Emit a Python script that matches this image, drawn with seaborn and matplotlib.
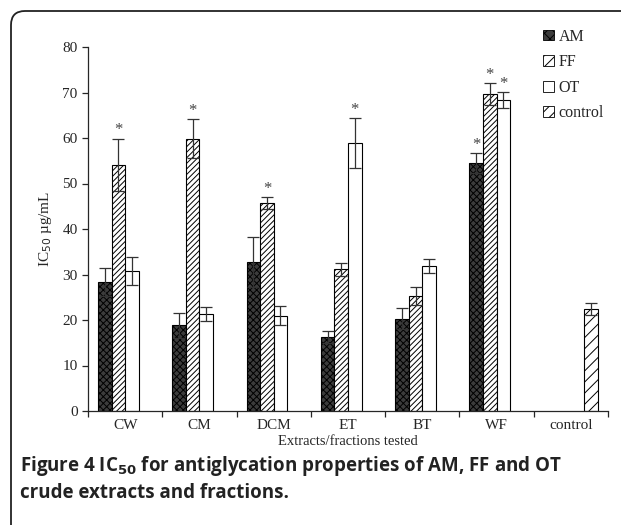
import numpy as np
import pandas as pd
import seaborn as sns
import matplotlib.pyplot as plt
from matplotlib.patches import FancyBboxPatch

# values (IC50 ug/mL, mean and error)
categories = ['CW', 'CM', 'DCM', 'ET', 'BT', 'WF', 'control']
series = ['AM', 'FF', 'OT', 'control']
am_mean = [28.3, 18.8, 32.7, 16.3, 20.3, 54.5]
am_err = [3.1, 2.8, 5.5, 1.3, 2.3, 2.1]
ff_mean = [54.1, 59.8, 45.7, 31.1, 25.3, 69.6]
ff_err = [5.7, 4.3, 1.3, 1.5, 1.9, 2.4]
ot_mean = [30.8, 21.3, 20.9, 58.8, 31.8, 68.4]
ot_err = [3.1, 1.5, 2.1, 5.5, 1.5, 1.7]
control_mean = [22.4]
control_err = [1.4]
# bars marked with * (category, series)
starred = [('CW', 'FF'), ('CM', 'FF'), ('DCM', 'FF'), ('ET', 'OT'),
           ('WF', 'AM'), ('WF', 'FF'), ('WF', 'OT')]

rows = []
for s, m, e in [('AM', am_mean, am_err), ('FF', ff_mean, ff_err), ('OT', ot_mean, ot_err)]:
    for c, v, ee in zip(categories[:6], m, e):
        rows.append((c, s, v, ee))
rows.append(('control', 'control', control_mean[0], control_err[0]))
df = pd.DataFrame(rows, columns=['group', 'series', 'ic50', 'err'])

sns.set_style('ticks')
plt.rcParams['font.family'] = ['Liberation Serif', 'DejaVu Serif']
plt.rcParams['hatch.linewidth'] = 0.7

fig = plt.figure(figsize=(6.21, 5.25), dpi=100)
ax = fig.add_axes([88 / 621, 1 - 411 / 525, 520 / 621, 364 / 525])

sns.barplot(data=df, x='group', y='ic50', hue='series', order=categories,
            hue_order=series, width=0.73, errorbar=None, ax=ax,
            edgecolor='black', linewidth=0.8)

styles = {
    'AM': dict(face='#3c3c3c', hatch='xxxxx', hc='#c8c8c8'),
    'FF': dict(face='white', hatch='//////', hc='#333333'),
    'OT': dict(face='white', hatch=None, hc=None),
    'control': dict(face='white', hatch='///', hc='#666666'),
}

for s, cont in zip(series, ax.containers):
    st = styles[s]
    for bar in cont:
        if np.isnan(bar.get_height()):
            continue
        bar.set_facecolor(st['face'])
        bar.set_edgecolor('black')
        if st['hatch']:
            bar.set_hatch(st['hatch'])
            if hasattr(bar, 'set_hatchcolor'):
                bar.set_hatchcolor(st['hc'])
        cx = bar.get_x() + bar.get_width() / 2
        cat = categories[int(round(cx))]
        row = df[(df.group == cat) & (df.series == s)].iloc[0]
        ax.errorbar(cx, row.ic50, yerr=row.err, fmt='none', ecolor='#333333',
                    elinewidth=0.9, capsize=4, capthick=0.9)
        if (cat, s) in starred:
            ax.text(cx, row.ic50 + row.err + 0.1, '*', ha='center', va='bottom',
                    fontsize=12, color='#444444')

# legend
handles, labels = ax.get_legend_handles_labels()
for h, s in zip(handles, series):
    st = styles[s]
    h.set_facecolor(st['face'])
    h.set_edgecolor('black')
    h.set_linewidth(0.6)
    if st['hatch']:
        h.set_hatch(st['hatch'][:3])
        if hasattr(h, 'set_hatchcolor'):
            h.set_hatchcolor(st['hc'])
ax.legend(handles, labels, loc='upper right', bbox_to_anchor=(1.02, 1.09),
          frameon=False, fontsize=11.5, handlelength=0.65, handleheight=0.65,
          handletextpad=0.3, labelspacing=0.6)

ax.set_ylim(0, 80)
ax.set_xlim(-0.5, 6.5)
ax.set_yticks(range(0, 81, 10))
ax.set_xticks(range(len(categories)))
ax.set_xticklabels(categories)
ax.set_xticks(np.arange(-0.5, 7, 1), minor=True)
ax.tick_params(axis='x', which='major', length=0, labelsize=11, pad=6)
ax.tick_params(axis='x', which='minor', length=4, width=0.9, direction='out')
ax.tick_params(axis='y', length=4, width=0.9, labelsize=11, direction='out')
for sp in ['left', 'bottom']:
    ax.spines[sp].set_linewidth(0.9)
sns.despine(ax=ax)
ax.set_xlabel('Extracts/fractions tested', fontsize=10.5, labelpad=2)
ax.set_ylabel('IC$_{50}$ µg/mL', fontsize=11, labelpad=6)

# caption
cap_font = dict(fontsize=13.5, fontweight='bold', family=['Open Sans', 'DejaVu Sans'],
                color='#222222', va='baseline')
fig.text(20 / 621, 1 - 471 / 525,
         'Figure 4 IC$_{\\mathbf{50}}$ for antiglycation properties of AM, FF and OT',
         **cap_font)
fig.text(20 / 621, 1 - 498 / 525, 'crude extracts and fractions.', **cap_font)

# rounded frame around the figure (only top-left corner visible)
frame = FancyBboxPatch((0.11, -0.5), 7.0, 5.25 - 0.11 + 0.5,
                       boxstyle='round,pad=0,rounding_size=0.14',
                       transform=fig.dpi_scale_trans, fill=False,
                       edgecolor='#222222', linewidth=1.3)
fig.patches.append(frame)

fig.savefig('out.png', dpi=100)
